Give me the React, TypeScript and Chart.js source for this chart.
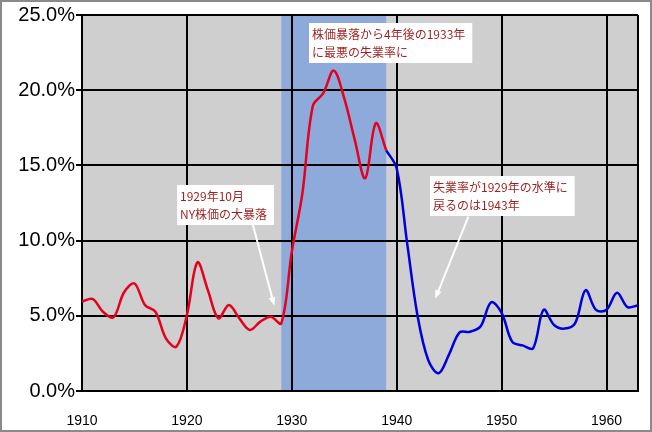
import React, { useEffect, useRef } from 'react';
import { Chart, registerables } from 'chart.js';

Chart.register(...registerables);

// Unemployment rate (%) — 1910–1939 (red) and 1939–1963 (blue)
const RED_YEARS = [1910, 1911, 1912, 1913, 1914, 1915, 1916, 1917, 1918, 1919, 1920, 1921, 1922, 1923, 1924, 1925, 1926, 1927, 1928, 1929, 1930, 1931, 1932, 1933, 1934, 1935, 1936, 1937, 1938, 1939];
const RED_RATES = [5.94, 6.12, 5.27, 4.9, 6.55, 7.15, 5.72, 5.27, 3.5, 2.95, 5.05, 8.55, 6.7, 4.83, 5.72, 4.83, 4.06, 4.61, 4.94, 4.5, 9.26, 13.1, 18.95, 19.8, 21.3, 19.45, 16.7, 14.15, 17.8, 16.0];
const BLUE_YEARS = [1939, 1940, 1941, 1942, 1943, 1944, 1945, 1946, 1947, 1948, 1949, 1950, 1951, 1952, 1953, 1954, 1955, 1956, 1957, 1958, 1959, 1960, 1961, 1962, 1963];
const BLUE_RATES = [16.0, 14.8, 9.8, 4.94, 2.06, 1.18, 2.45, 3.9, 3.94, 4.3, 5.9, 5.2, 3.28, 3.03, 2.84, 5.4, 4.39, 4.15, 4.5, 6.7, 5.39, 5.4, 6.54, 5.58, 5.7];

const X_MIN = 1910;
const X_MAX = 1963;
const X_TICKS = [1910, 1920, 1930, 1940, 1950, 1960];
const Y_MIN = 0;
const Y_MAX = 25;
const Y_STEP = 5;

const SHADE_FROM = 1929;
const SHADE_TO = 1939;

const NOTE_TEXTS = [
  ['1929年10月', 'NY株価の大暴落'],
  ['株価暴落から4年後の1933年', 'に最悪の失業率に'],
  ['失業率が1929年の水準に', '戻るのは1943年'],
];
// anchors in data units: box top-left, arrow start, arrow tip (null = no arrow)
const NOTE_ANCHORS: Array<{ box: [number, number]; from: [number, number] | null; to: [number, number] | null }> = [
  { box: [1919.06, 13.7], from: [1926.22, 11.24], to: [1928.32, 5.68] },
  { box: [1931.66, 24.47], from: null, to: null },
  { box: [1943.21, 14.31], from: [1946.83, 11.59], to: [1943.68, 6.15] },
];

export default function App() {
  const ref = useRef<HTMLCanvasElement>(null);

  useEffect(() => {
    if (!ref.current) return;

    const bgPlugin = {
      id: 'plotBg',
      beforeDraw(chart: any) {
        const { ctx, chartArea: a, scales } = chart;
        const x = scales.x;
        ctx.save();
        ctx.fillStyle = '#cfcfcf';
        ctx.fillRect(a.left, a.top, a.right - a.left, a.bottom - a.top);
        const x0 = x.getPixelForValue(SHADE_FROM);
        const x1 = x.getPixelForValue(SHADE_TO);
        ctx.fillStyle = '#8eaadb';
        ctx.fillRect(x0, a.top, x1 - x0, a.bottom - a.top);
        ctx.restore();
      },
    };

    const notePlugin = {
      id: 'notes',
      afterDatasetsDraw(chart: any) {
        const { ctx, scales } = chart;
        const x = scales.x;
        const y = scales.y;
        ctx.save();
        NOTE_ANCHORS.forEach((n, i) => {
          if (n.from && n.to) {
            const sx = x.getPixelForValue(n.from[0]);
            const sy = y.getPixelForValue(n.from[1]);
            const tx = x.getPixelForValue(n.to[0]);
            const ty = y.getPixelForValue(n.to[1]);
            const ang = Math.atan2(ty - sy, tx - sx);
            const hl = 9;
            const hw = 0.38;
            ctx.strokeStyle = '#ffffff';
            ctx.fillStyle = '#ffffff';
            ctx.lineWidth = 2;
            ctx.beginPath();
            ctx.moveTo(sx, sy);
            ctx.lineTo(tx - Math.cos(ang) * (hl - 2), ty - Math.sin(ang) * (hl - 2));
            ctx.stroke();
            ctx.beginPath();
            ctx.moveTo(tx, ty);
            ctx.lineTo(tx - hl * Math.cos(ang - hw), ty - hl * Math.sin(ang - hw));
            ctx.lineTo(tx - hl * Math.cos(ang + hw), ty - hl * Math.sin(ang + hw));
            ctx.closePath();
            ctx.fill();
          }
          const lines = NOTE_TEXTS[i];
          ctx.font = '12px "Noto Sans CJK JP", "Noto Sans", sans-serif';
          const w = Math.max(...lines.map((l) => ctx.measureText(l).width)) + 10;
          const bx = Math.round(x.getPixelForValue(n.box[0]));
          const by = Math.round(y.getPixelForValue(n.box[1]));
          ctx.fillStyle = '#ffffff';
          ctx.fillRect(bx, by, w, 40);
          ctx.fillStyle = '#9e1f1f';
          ctx.textBaseline = 'middle';
          ctx.textAlign = 'left';
          lines.forEach((l, k) => ctx.fillText(l, bx + 3, by + 11 + k * 18));
        });
        ctx.restore();
      },
    };

    const chart = new Chart(ref.current, {
      type: 'line',
      data: {
        datasets: [
          {
            data: RED_YEARS.map((yr, i) => ({ x: yr, y: RED_RATES[i] })),
            borderColor: '#e6001e',
            borderWidth: 2.5,
            pointRadius: 0,
            tension: 0.35,
            fill: false,
          },
          {
            data: BLUE_YEARS.map((yr, i) => ({ x: yr, y: BLUE_RATES[i] })),
            borderColor: '#0000dd',
            borderWidth: 2.5,
            pointRadius: 0,
            tension: 0.35,
            fill: false,
          },
        ],
      },
      options: {
        animation: false,
        responsive: false,
        layout: { padding: { top: 15, right: 14, left: 0, bottom: 0 } },
        plugins: {
          legend: { display: false },
          tooltip: { enabled: false },
          title: { display: false },
        },
        scales: {
          x: {
            type: 'linear',
            min: X_MIN,
            max: X_MAX,
            afterBuildTicks: (s: any) => {
              s.ticks = [...X_TICKS, X_MAX].map((v) => ({ value: v }));
            },
            afterFit: (s: any) => {
              s.height = 41;
              s.paddingLeft = 0;
              s.paddingRight = 0;
            },
            grid: { color: '#000', lineWidth: 2, drawTicks: false },
            border: { display: true, color: '#000', width: 2 },
            ticks: {
              autoSkip: false,
              maxRotation: 0,
              padding: 22,
              color: '#000',
              font: { family: '"Liberation Sans", Arial, sans-serif', size: 14 },
              callback: (v: any) => (X_TICKS.includes(Number(v)) ? String(v) : ''),
            },
          },
          y: {
            type: 'linear',
            min: Y_MIN,
            max: Y_MAX,
            afterFit: (s: any) => {
              s.width = 82;
            },
            grid: { color: '#000', lineWidth: 2, drawTicks: true, tickLength: 6 },
            border: { display: true, color: '#000', width: 2 },
            ticks: {
              stepSize: Y_STEP,
              padding: 1,
              color: '#000',
              font: { family: '"Liberation Sans", Arial, sans-serif', size: 20 },
              callback: (v: any) => Number(v).toFixed(1) + '%',
            },
          },
        },
      },
      plugins: [bgPlugin, notePlugin],
    });

    return () => chart.destroy();
  }, []);

  return (
    <div style={{ position: 'absolute', left: 0, top: 0, width: 652, height: 432, background: '#fff' }}>
      <canvas ref={ref} width={652} height={432} style={{ display: 'block', width: 652, height: 432 }} />
      <div
        style={{
          position: 'absolute',
          left: 0,
          top: 0,
          width: 652,
          height: 432,
          border: '2px solid #8a8a8a',
          boxSizing: 'border-box',
          pointerEvents: 'none',
        }}
      />
    </div>
  );
}
